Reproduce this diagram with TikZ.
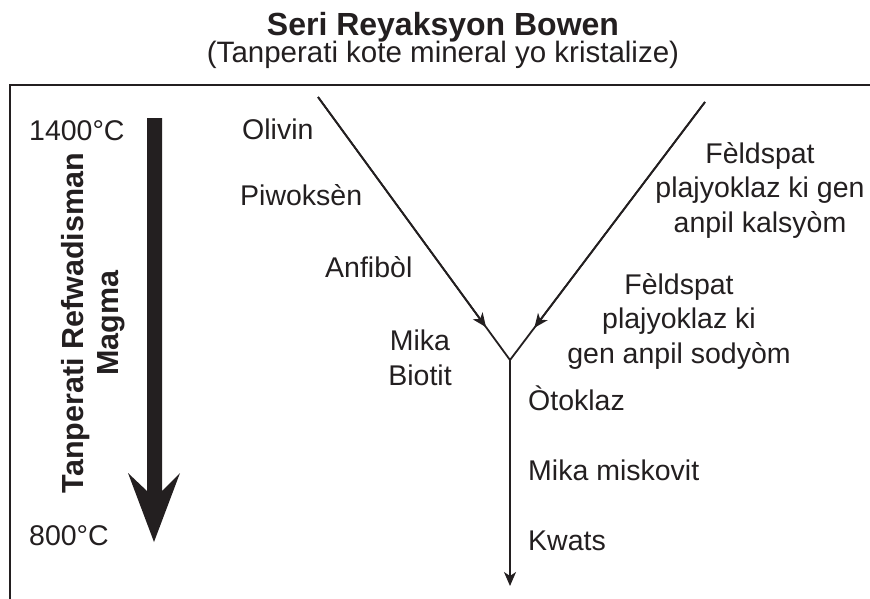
\documentclass[tikz,border=0pt]{standalone}
\usepackage{fontspec}
\setmainfont{Liberation Sans}
\usetikzlibrary{arrows.meta,calc}
\definecolor{ink}{RGB}{35,31,32}
\tikzset{
  lbl/.style={inner sep=0pt, text=ink, font=\fontsize{28.5}{34.5}\selectfont},
  blk/.style={lbl, align=center, anchor=base},
  conn/.style={draw=ink, line width=1.8pt},
  tip/.style={conn, -{Stealth[length=14pt,width=12pt,inset=4pt]}}
}
\begin{document}
\begin{tikzpicture}[x=1pt,y=-1pt]
\useasboundingbox (0,0) rectangle (870,598);
% title
\node[lbl, anchor=base, font=\bfseries\fontsize{32}{38}\selectfont] (title) at (443,35) {Seri Reyaksyon Bowen};
\node[lbl, anchor=base, font=\fontsize{29.5}{35}\selectfont] (sub) at (443,62) {(Tanperati kote mineral yo kristalize)};
% frame
\draw[ink, line width=2pt] (10,605) -- (10,85) -- (880,85);
% temperature scale
\node[lbl, anchor=base west] (t1400) at (29,140) {1400°C};
\node[lbl, anchor=base west] (t800) at (29,545) {800°C};
\fill[ink] (147,118) -- (162,118) -- (162,491) -- (180,473) -- (154,542) -- (128,473) -- (147,491) -- cycle;
\node[lbl, font=\bfseries\fontsize{30.5}{35}\selectfont, align=center, rotate=90, anchor=center] (axis) at (93,323) {Tanperati Refwadisman\\Magma};
% connectors
\coordinate (L0) at (318,97);
\coordinate (R0) at (705,102);
\coordinate (V) at (510,360);
\coordinate (B) at (510,586);
\draw[conn] (L0) -- (V) -- (R0);
\draw[tip] (L0) -- ($(L0)!0.875!(V)$);
\draw[tip] (R0) -- ($(R0)!0.875!(V)$);
\draw[tip] (V) -- (B);
% left minerals
\node[lbl, anchor=base west] (olivin) at (242,139) {Olivin};
\node[lbl, anchor=base west] (piw) at (240,205) {Piwoksèn};
\node[lbl, anchor=base west] (anf) at (325,277) {Anfibòl};
\node[blk] (mika) at (420,385) {Mika\\Biotit};
% right minerals
\node[blk] (fca) at (760,232) {Fèldspat\\plajyoklaz ki gen\\anpil kalsyòm};
\node[blk] (fna) at (679,363) {Fèldspat\\plajyoklaz ki\\gen anpil sodyòm};
% bottom minerals
\node[lbl, anchor=base west] (oto) at (528,410) {Òtoklaz};
\node[lbl, anchor=base west] (mus) at (528,480) {Mika miskovit};
\node[lbl, anchor=base west] (kw) at (528,550) {Kwats};
\end{tikzpicture}
\end{document}
